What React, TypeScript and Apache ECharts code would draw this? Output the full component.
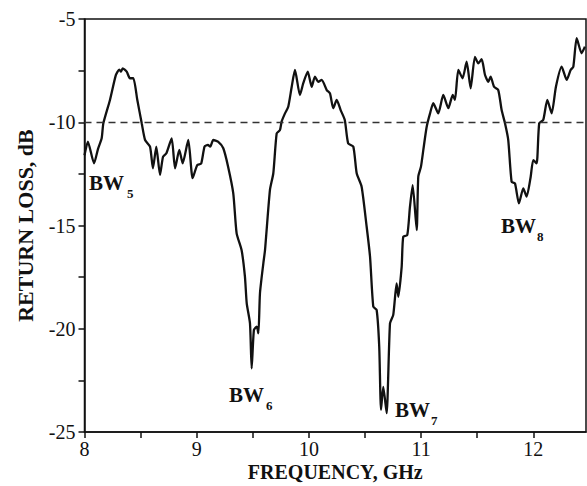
import React, { useEffect, useRef } from "react";
import * as echarts from "echarts";

// Frequency (GHz) and return loss (dB)
const freqGHz: number[] = [
  8.0, 8.03, 8.085, 8.12, 8.153, 8.168, 8.227, 8.28, 8.31, 8.325, 8.34, 8.376, 8.405, 8.435, 8.47,
  8.51, 8.54, 8.584, 8.61, 8.64, 8.673, 8.7, 8.73, 8.777, 8.807, 8.845, 8.875, 8.925, 8.964, 9.005,
  9.04, 9.07, 9.1, 9.12, 9.148, 9.19, 9.237, 9.28, 9.326, 9.356, 9.4, 9.43, 9.446, 9.475, 9.49,
  9.51, 9.535, 9.55, 9.564, 9.594, 9.609, 9.653, 9.683, 9.713, 9.742, 9.757, 9.787, 9.816, 9.847, 9.876,
  9.92, 9.95, 9.99, 10.025, 10.054, 10.084, 10.114, 10.159, 10.188, 10.217, 10.248, 10.283, 10.32, 10.35, 10.396,
  10.426, 10.47, 10.515, 10.545, 10.574, 10.604, 10.627, 10.643, 10.663, 10.693, 10.723, 10.752, 10.782, 10.797, 10.827,
  10.841, 10.877, 10.901, 10.925, 10.961, 10.975, 10.999, 11.02, 11.05, 11.08, 11.109, 11.153, 11.198, 11.243, 11.282,
  11.302, 11.332, 11.37, 11.406, 11.442, 11.48, 11.51, 11.54, 11.57, 11.6, 11.62, 11.65, 11.688, 11.718, 11.748,
  11.777, 11.807, 11.837, 11.872, 11.911, 11.941, 11.977, 12.0, 12.03, 12.053, 12.089, 12.125, 12.164, 12.202, 12.253,
  12.298, 12.333, 12.357, 12.387, 12.431, 12.46,
];

const returnLossDb: number[] = [
  -11.6, -10.94, -11.99, -11.3, -10.78, -10.05, -8.92, -7.71, -7.45, -7.55, -7.39, -7.55, -7.87, -7.87, -8.9,
  -10.05, -10.86, -11.18, -12.23, -11.18, -12.55, -11.67, -11.5, -10.78, -12.23, -11.34, -11.99, -10.86, -12.71, -12.07,
  -12.0, -11.18, -11.1, -11.18, -10.86, -10.94, -11.26, -12.15, -13.44, -15.38, -16.19, -17.48, -18.77, -19.74, -21.92,
  -20.06, -19.9, -20.22, -18.28, -16.83, -16.19, -13.28, -12.47, -10.54, -10.38, -9.97, -9.57, -9.25, -8.28, -7.47,
  -8.68, -8.11, -7.55, -8.28, -7.79, -8.04, -7.95, -8.44, -8.6, -9.32, -8.92, -9.41, -9.89, -11.02, -11.18,
  -12.47, -13.12, -15.06, -16.51, -18.93, -19.09, -20.87, -23.93, -22.81, -24.09, -19.74, -19.33, -17.8, -18.45, -17.0,
  -15.54, -15.46, -14.09, -13.04, -15.22, -12.64, -12.15, -11.34, -10.22, -9.57, -9.08, -9.57, -8.68, -9.32, -8.68,
  -8.92, -7.47, -7.87, -7.07, -8.36, -6.83, -7.15, -6.95, -7.71, -8.04, -7.79, -8.28, -8.44, -9.41, -10.05,
  -10.86, -12.88, -12.96, -13.93, -13.2, -13.6, -12.64, -11.83, -11.99, -10.05, -9.89, -8.92, -9.57, -8.28, -7.31,
  -7.95, -7.47, -7.31, -5.93, -6.66, -6.34,
];

const thresholdDb = -10;
const xTickLabels: number[] = [8, 9, 10, 11, 12];
const yTickLabels: number[] = [-5, -10, -15, -20, -25];
const bandLabels: string[] = ["5", "6", "7", "8"];

const SERIF = "'Liberation Serif', 'Times New Roman', serif";

export default function App() {
  const ref = useRef<HTMLDivElement>(null);

  useEffect(() => {
    if (!ref.current) return;
    const chart = echarts.init(ref.current, undefined, { renderer: "svg" });

    const data = freqGHz.map((f, i) => [f, returnLossDb[i]]);

    const bwPos = [
      { x: 89, y: 175, sx: 127, sy: 187 },
      { x: 229, y: 387, sx: 266, sy: 399 },
      { x: 395, y: 402, sx: 431, sy: 414 },
      { x: 501, y: 218, sx: 537, sy: 230 },
    ];
    const graphics: any[] = [];
    bandLabels.forEach((sub, i) => {
      const p = bwPos[i];
      graphics.push({
        type: "text",
        x: p.x,
        y: p.y - 3,
        style: { text: "BW", font: `bold 21px ${SERIF}`, fill: "#111" },
      });
      graphics.push({
        type: "text",
        x: p.sx,
        y: p.sy,
        style: { text: sub, font: `bold 13px ${SERIF}`, fill: "#111" },
      });
    });

    chart.setOption({
      animation: false,
      backgroundColor: "#fff",
      grid: {
        left: 84.5,
        right: 1,
        top: 19,
        bottom: 54,
        outerBoundsMode: "none",
        containLabel: false,
        show: true,
        borderColor: "#111",
        borderWidth: 1.5,
        backgroundColor: "transparent",
      },
      xAxis: {
        type: "value",
        min: 8,
        max: 12.47,
        interval: 0.5,
        name: "FREQUENCY, GHz",
        nameLocation: "middle",
        nameGap: 30,
        nameMoveOverlap: false,
        nameTextStyle: { fontFamily: SERIF, fontWeight: "bold", fontSize: 20, lineHeight: 20, color: "#111" },
        axisLine: { show: true, lineStyle: { color: "#111", width: 1.5 } },
        axisTick: { show: true, inside: false, length: 6, lineStyle: { color: "#111", width: 1.5 } },
        axisLabel: {
          fontFamily: SERIF,
          fontSize: 20,
          lineHeight: 20,
          color: "#111",
          margin: 7,
          showMaxLabel: false,
          formatter: (v: number) => (xTickLabels.includes(v) ? String(v) : ""),
        },
        splitLine: { show: false },
      },
      yAxis: {
        type: "value",
        min: -25,
        max: -5,
        interval: 2.5,
        name: "RETURN LOSS, dB",
        nameLocation: "middle",
        nameGap: 48,
        nameMoveOverlap: false,
        nameTextStyle: { fontFamily: SERIF, fontWeight: "bold", fontSize: 22, color: "#111" },
        axisLine: { show: true, lineStyle: { color: "#111", width: 1.5 } },
        axisTick: { show: true, inside: false, length: 6, lineStyle: { color: "#111", width: 1.5 } },
        axisLabel: {
          fontFamily: SERIF,
          fontSize: 20,
          color: "#111",
          margin: 9,
          formatter: (v: number) => (yTickLabels.includes(v) ? String(v) : ""),
        },
        splitLine: { show: false },
      },
      series: [
        {
          type: "line",
          data,
          showSymbol: false,
          symbol: "none",
          smooth: 0.2,
          clip: true,
          lineStyle: { color: "#111", width: 2.3 },
          markLine: {
            silent: true,
            symbol: "none",
            label: { show: false },
            lineStyle: { color: "#333", width: 1.4, type: [7, 5] },
            data: [{ yAxis: thresholdDb }],
          },
        },
      ],
      graphic: graphics,
    });

    return () => chart.dispose();
  }, []);

  return (
    <div
      ref={ref}
      style={{ position: "absolute", left: 0, top: 0, width: 587, height: 486 }}
    />
  );
}
